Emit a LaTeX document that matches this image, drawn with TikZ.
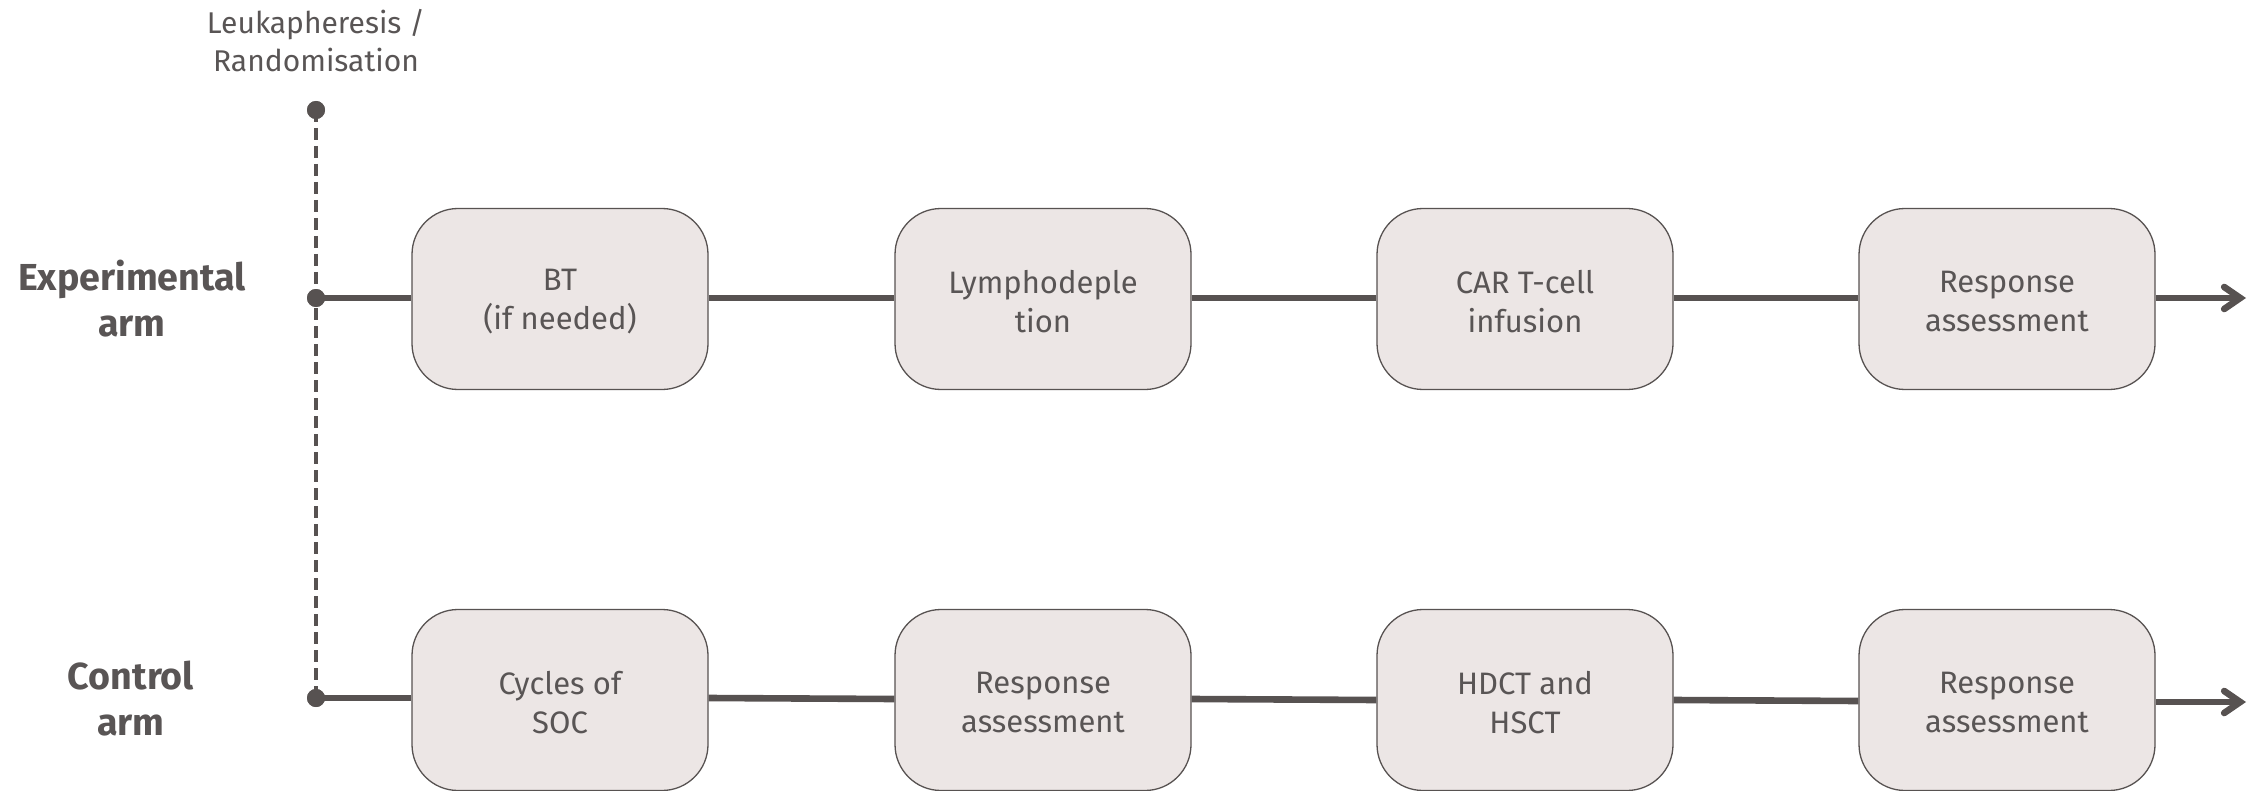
\documentclass[tikz,border=0pt]{standalone}
\usepackage{fontspec}
\setmainfont{Fira Sans}
\usetikzlibrary{arrows.meta}
\definecolor{ink}{HTML}{575251}
\definecolor{boxfill}{HTML}{ECE6E5}
\definecolor{txt}{HTML}{595555}
\begin{document}
\begin{tikzpicture}[x=0.5pt,y=-0.5pt,
  stepbox/.style={draw=ink, line width=0.65pt, fill=boxfill, rounded corners=23pt,
    minimum width=148pt, minimum height=90.5pt, inner sep=0pt, align=center,
    text=txt, font=\fontsize{15.5}{19.5}\selectfont},
  steptext/.style={align=center, text=txt, inner sep=0pt, font=\fontsize{15.5}{19.5}\selectfont},
  armlabel/.style={align=center, text=txt, font=\bfseries\fontsize{18.8}{23}\selectfont},
  toplabel/.style={align=center, text=txt, font=\fontsize{15}{19}\selectfont},
  flow/.style={draw=ink, line width=3.3pt},
  flowend/.style={flow, -{Straight Barb[length=8pt,width=11pt,line cap=round]}},
  randline/.style={draw=ink, line width=1.7pt, dash pattern=on 6pt off 3pt},
  dot/.style={circle, fill=ink, inner sep=0pt, minimum size=9pt}]
\useasboundingbox (0,0) rectangle (2253,791);

% randomisation point and its label
\node[toplabel] (rlabel) at (316,41) {Leukapheresis /\\Randomisation};
\node[dot] (r0) at (316,110) {};

% arm labels
\node[armlabel] (elabel) at (132,299) {Experimental\\arm};
\node[armlabel] (clabel) at (131,699) {Control\\arm};

% experimental arm
\node[dot] (e0) at (316,298) {};
\node[stepbox] (e1) at (560,299) {};
\node[stepbox] (e2) at (1043,299) {};
\node[stepbox] (e3) at (1525,299) {};
\node[stepbox] (e4) at (2007,299) {};
\node[steptext] (e1t) at (560,302) {BT\\(if needed)};
\node[steptext] (e2t) at (1043,302) {Lymphodeple\\tion};
\node[steptext] (e3t) at (1525,302) {CAR T-cell\\infusion};
\node[steptext] (e4t) at (2007,302) {Response\\assessment};
\coordinate (eend) at (2246,298);

% control arm
\node[dot] (c0) at (316,698) {};
\node[stepbox] (c1) at (560,700) {};
\node[stepbox] (c2) at (1043,700) {};
\node[stepbox] (c3) at (1525,700) {};
\node[stepbox] (c4) at (2007,700) {};
\node[steptext] (c1t) at (560,703) {Cycles of\\SOC};
\node[steptext] (c2t) at (1043,703) {Response\\assessment};
\node[steptext] (c3t) at (1525,703) {HDCT and\\HSCT};
\node[steptext] (c4t) at (2007,703) {Response\\assessment};
\coordinate (cend) at (2246,702);

% connectors
\draw[randline] (r0.center) -- (c0.center);
\draw[flow] (e0.center) -- (e1.west |- e0);
\draw[flow] (e1.east |- e0) -- (e2.west |- e0);
\draw[flow] (e2.east |- e0) -- (e3.west |- e0);
\draw[flow] (e3.east |- e0) -- (e4.west |- e0);
\draw[flowend] (e4.east |- e0) -- (eend);
\draw[flow] (c0.center) -- (c1.west |- c0);
\draw[flow] (c1.east |- 0,698) -- (c2.west |- 0,699);
\draw[flow] (c2.east |- 0,699) -- (c3.west |- 0,700);
\draw[flow] (c3.east |- 0,700) -- (c4.west |- 0,701);
\draw[flowend] (c4.east |- 0,702) -- (cend);

% dots drawn again on top of the lines
\node[dot] at (r0) {};
\node[dot] at (e0) {};
\node[dot] at (c0) {};
\end{tikzpicture}
\end{document}
